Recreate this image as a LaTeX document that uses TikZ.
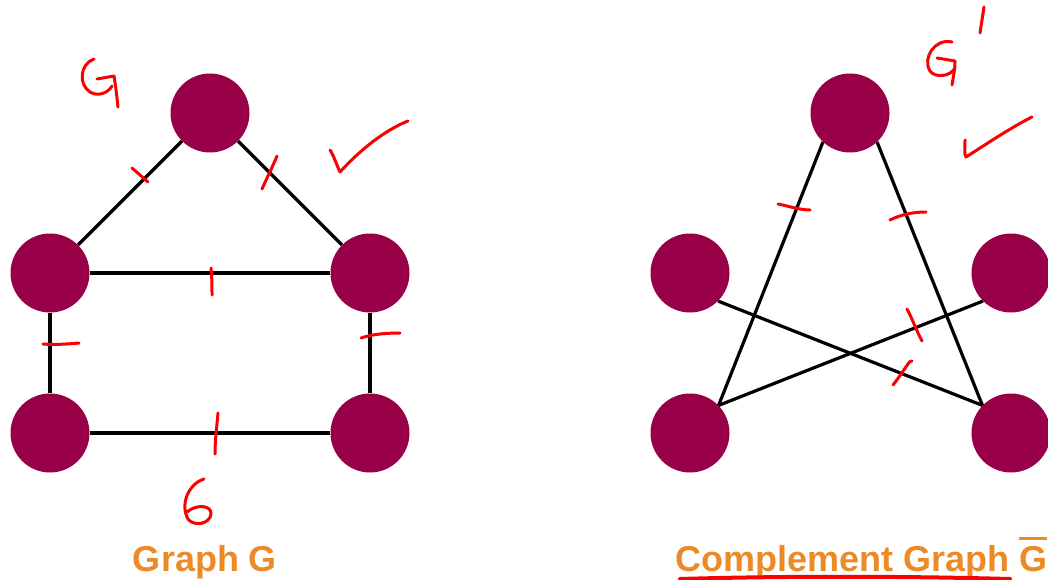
\documentclass[tikz,border=0pt]{standalone}
\usepackage{fontspec}
\setmainfont{Liberation Sans}
\definecolor{vtx}{RGB}{152,0,72}
\definecolor{lbl}{RGB}{236,138,40}
\definecolor{ink}{RGB}{250,0,0}
\begin{document}
\begin{tikzpicture}[x=1pt,y=-1pt,
  vertex/.style={circle,fill=vtx,minimum size=79pt,inner sep=0pt},
  edge/.style={line width=3.2pt,black},
  pen/.style={ink,line width=3pt,line cap=round,line join=round},
  caption/.style={font=\fontsize{36}{40}\selectfont\bfseries,text=lbl,inner sep=0pt}]
\useasboundingbox (0,0) rectangle (1048,580);
% Graph G
\node[vertex] (a) at (210,113) {};
\node[vertex] (b) at (50,273) {};
\node[vertex] (c) at (370,273) {};
\node[vertex] (d) at (50,433) {};
\node[vertex] (e) at (370,433) {};
\draw[edge] (a) -- (b);
\draw[edge] (a) -- (c);
\draw[edge] (b) -- (c);
\draw[edge] (b) -- (d);
\draw[edge] (c) -- (e);
\draw[edge] (d) -- (e);
% Complement graph
\node[vertex] (ta) at (850,113) {};
\node[vertex] (tb) at (690,273) {};
\node[vertex] (tc) at (1011,273) {};
\node[vertex] (td) at (690,433) {};
\node[vertex] (te) at (1011,433) {};
\draw[edge] (ta.227) -- (td.44);
\draw[edge] (ta.313) -- (te.136);
\draw[edge] (tb.-45) -- (te.136);
\draw[edge] (tc.225) -- (td.44);
% captions
\node[caption,anchor=base] (capg) at (205,571) {Graph G};
\node[caption,anchor=base west] (capc) at (675,571) {Complement Graph {\setbox0\hbox{G}\rlap{\rule[\dimexpr\ht0+6pt\relax]{\wd0}{2.5pt}}G}};
% handwritten annotations (left)
\draw[pen] (94,59) .. controls (80,64) and (78,84) .. (90,92) .. controls (98,97) and (108,93) .. (112,86);
\draw[pen] (97,79) -- (114,76) .. controls (116,88) and (117,98) .. (118,107);
\draw[pen] (330,150) .. controls (334,156) and (337,166) .. (340,172) .. controls (360,150) and (385,130) .. (408,121);
\draw[pen] (132,168) -- (148,182);
\draw[pen] (277,156) .. controls (272,168) and (266,180) .. (262,189);
\draw[pen] (211,268) .. controls (212,278) and (212,288) .. (212,295);
\draw[pen] (43,344) .. controls (55,345) and (68,344) .. (79,343);
\draw[pen] (361,338) .. controls (372,334) and (388,333) .. (400,333);
\draw[pen] (218,413) .. controls (217,425) and (215,440) .. (215,454);
\draw[pen] (204,479) .. controls (188,484) and (180,505) .. (188,519) .. controls (194,527) and (210,524) .. (211,514) .. controls (212,505) and (196,504) .. (187,512);
% handwritten annotations (right)
\draw[pen] (952,42) .. controls (935,38) and (922,58) .. (930,71) .. controls (935,78) and (950,77) .. (955,68);
\draw[pen] (937,58) -- (955,61) .. controls (955,70) and (953,78) .. (952,85);
\draw[pen] (984,7) -- (980,33);
\draw[pen] (965,140) .. controls (965,148) and (964,154) .. (966,157) .. controls (985,145) and (1010,128) .. (1032,117);
\draw[pen] (778,204) .. controls (788,206) and (800,210) .. (810,210);
\draw[pen] (890,220) .. controls (900,215) and (912,212) .. (926,212);
\draw[pen] (907,309) .. controls (912,318) and (917,332) .. (922,341);
\draw[pen] (893,385) .. controls (900,376) and (905,368) .. (908,364) .. controls (909,362) and (910,361) .. (912,361);
\draw[ink,line width=4pt,line cap=round] (680,579) .. controls (780,576) and (900,576) .. (1010,579);
\end{tikzpicture}
\end{document}
